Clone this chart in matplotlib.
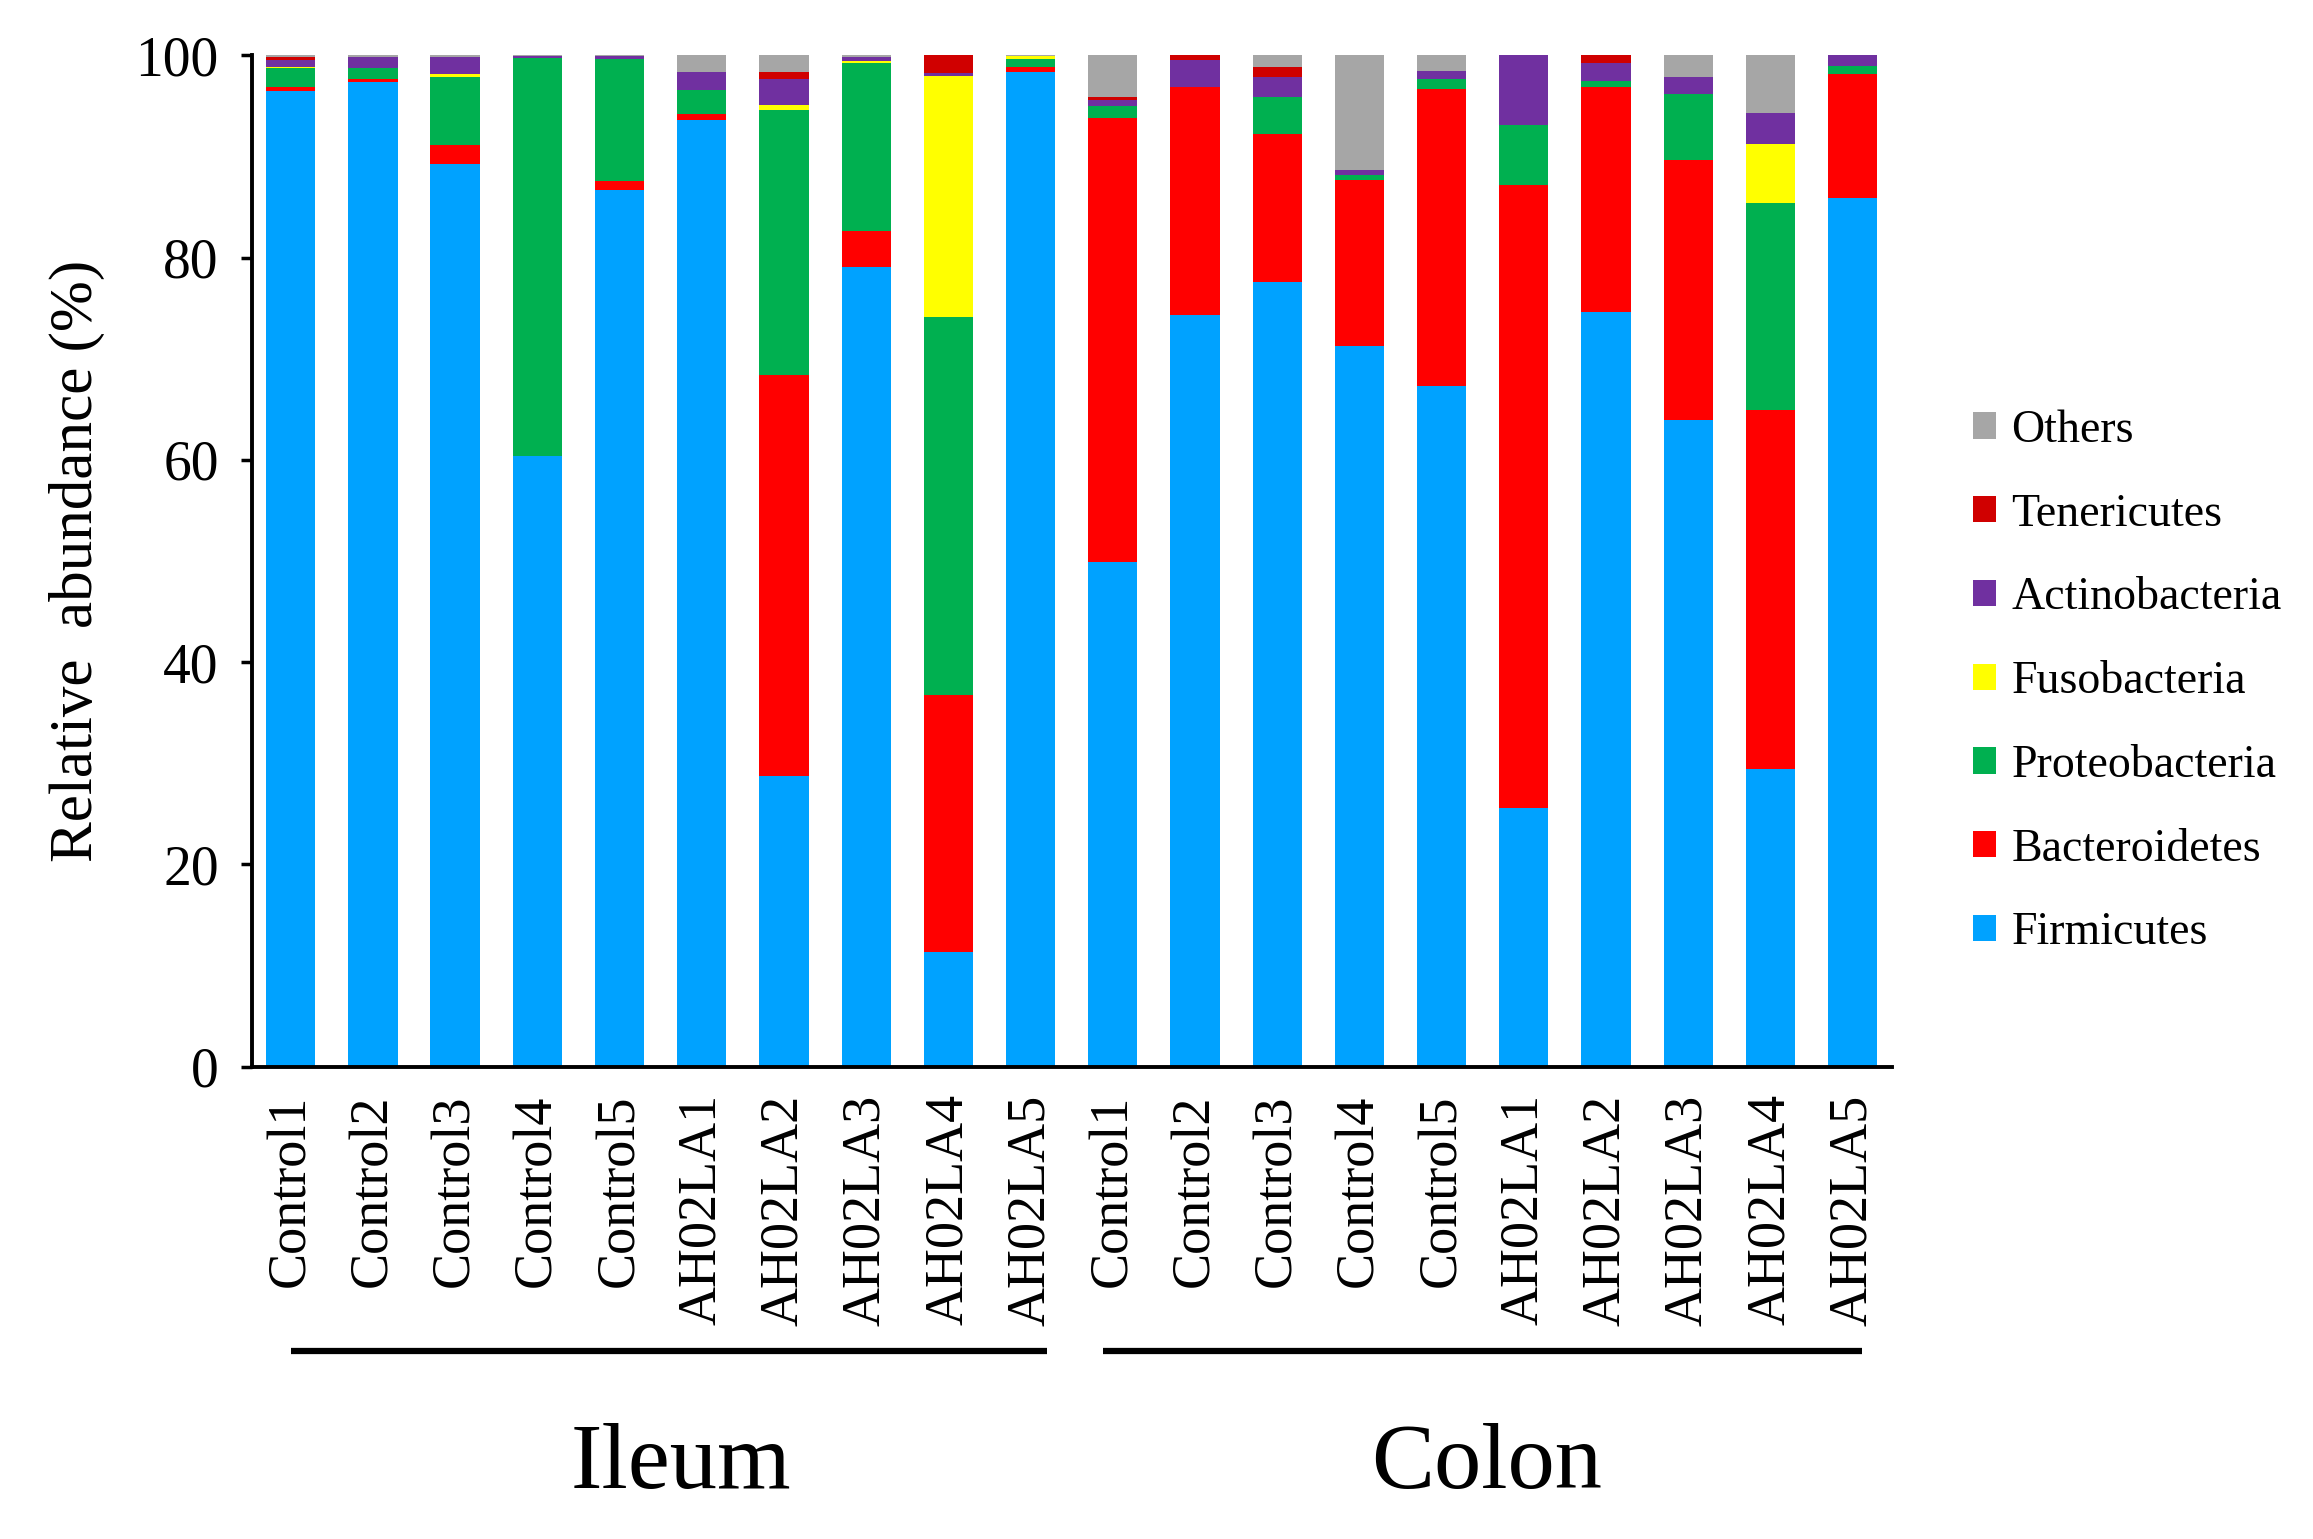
import numpy as np
import matplotlib
matplotlib.use("Agg")
from matplotlib import pyplot as plt
from matplotlib.patches import Patch

plt.rcParams['font.family'] = ['Liberation Serif', 'DejaVu Serif']

# sample names, ileum first then colon
samples = ['Control1', 'Control2', 'Control3', 'Control4', 'Control5',
           'AH02LA1', 'AH02LA2', 'AH02LA3', 'AH02LA4', 'AH02LA5'] * 2
groups = ['Ileum', 'Colon']

# relative abundance (%) per phylum, 20 bars
firmicutes = [96.5, 97.4, 89.3, 60.4, 86.7, 93.6, 28.7, 79.1, 11.3, 98.4,
              49.9, 74.3, 77.6, 71.3, 67.3, 25.6, 74.6, 63.9, 29.4, 85.9]
bacteroidetes = [0.4, 0.3, 1.8, 0.0, 0.9, 0.6, 39.7, 3.5, 25.4, 0.5,
                 43.9, 22.6, 14.6, 16.4, 29.4, 61.6, 22.3, 25.8, 35.5, 12.3]
proteobacteria = [1.9, 1.1, 6.8, 39.3, 12.0, 2.4, 26.2, 16.6, 37.4, 0.7,
                  1.2, 0.0, 3.7, 0.5, 1.0, 5.9, 0.6, 6.5, 20.5, 0.8]
fusobacteria = [0.1, 0.0, 0.3, 0.0, 0.0, 0.0, 0.5, 0.2, 23.9, 0.3,
                0.0, 0.0, 0.0, 0.0, 0.0, 0.0, 0.0, 0.0, 5.8, 0.0]
actinobacteria = [0.6, 1.0, 1.6, 0.2, 0.3, 1.8, 2.6, 0.4, 0.3, 0.0,
                  0.6, 2.6, 2.0, 0.5, 0.8, 6.9, 1.7, 1.7, 3.1, 1.0]
tenericutes = [0.3, 0.0, 0.0, 0.0, 0.0, 0.0, 0.7, 0.0, 1.7, 0.0,
               0.3, 0.5, 1.0, 0.0, 0.0, 0.0, 0.8, 0.0, 0.0, 0.0]
others = [0.2, 0.2, 0.2, 0.1, 0.1, 1.6, 1.6, 0.2, 0.0, 0.1,
          4.1, 0.0, 1.1, 11.3, 1.5, 0.0, 0.0, 2.1, 5.7, 0.0]

phyla = ['Firmicutes', 'Bacteroidetes', 'Proteobacteria', 'Fusobacteria',
         'Actinobacteria', 'Tenericutes', 'Others']
series = [firmicutes, bacteroidetes, proteobacteria, fusobacteria,
          actinobacteria, tenericutes, others]
colors = ['#00A2FF', '#FF0000', '#00B050', '#FFFF00', '#7030A0', '#D00000', '#A6A6A6']

fig = plt.figure(figsize=(23.13, 15.39), dpi=100)
ax = fig.add_axes([0.109, 0.307, 0.709, 0.657])

x = np.arange(len(samples))
bottom = np.zeros(len(samples))
for vals, col in zip(series, colors):
    ax.bar(x, vals, width=0.6, bottom=bottom, color=col, linewidth=0)
    bottom += np.array(vals)

ax.set_xlim(-0.47, 19.48)
ax.set_ylim(0, 100)
ax.set_yticks(np.arange(0, 101, 20))
ax.tick_params(axis='y', direction='out', length=8, width=2.5, labelsize=40, pad=16)
ax.tick_params(axis='x', length=0, pad=20)
ax.set_xticks(x)
ax.set_xticklabels(samples, rotation=90, fontsize=39)
ax.spines['top'].set_visible(False)
ax.spines['right'].set_visible(False)
ax.spines['left'].set_linewidth(2.8)
ax.spines['bottom'].set_linewidth(2.8)
ax.set_ylabel('Relative  abundance (%)', fontsize=44, labelpad=22)

# group bars and names under the tick labels (hand drawn in the original, so a bit uneven)
tr = ax.get_xaxis_transform()
line_spans = [(0.0, 9.2), (9.88, 19.12)]
name_x = [4.75, 14.55]
for name, (x0, x1), tx in zip(groups, line_spans, name_x):
    ax.plot([x0, x1], [-0.281, -0.281], color='black', lw=4.5,
            transform=tr, clip_on=False, solid_capstyle='butt')
    ax.text(tx, -0.395, name, transform=tr,
            ha='center', va='center', fontsize=68)

handles = [Patch(facecolor=c, edgecolor='none', label=p) for p, c in zip(phyla, colors)]
fig.legend(handles[::-1], phyla[::-1], loc='center left',
           bbox_to_anchor=(0.835, 0.557), frameon=False, fontsize=33,
           handlelength=0.5, handleheight=0.5, handletextpad=0.35,
           labelspacing=0.9)

fig.savefig('out.png', dpi=100)
